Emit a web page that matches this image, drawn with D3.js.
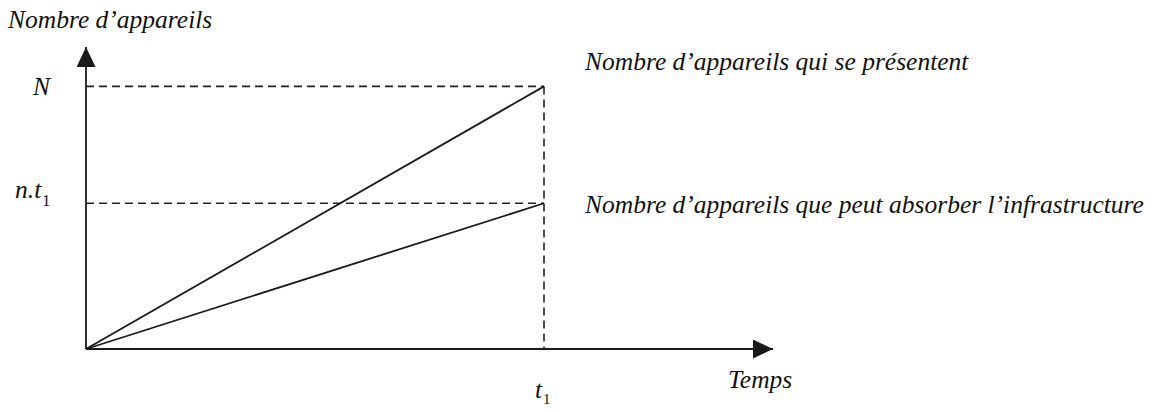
<!DOCTYPE html>
<meta charset="utf-8">
<style>
body { margin:0; background:#fff; }
svg { display:block; }
.guide { stroke:#222; stroke-width:1.6px; stroke-dasharray:8,5; fill:none; }
.line { stroke:#1a1a1a; stroke-width:1.8px; fill:none; }
.axis-line { stroke:#1a1a1a; stroke-width:1.8px; }
</style>
<body>
<script src="https://d3js.org/d3.v7.min.js"></script>
<script>
// time values (t1 = 1) and the two series (N = 1)
var times = [0, 1];
var presented = [0, 1];        // Nombre d'appareils qui se présentent
var absorbed = [0, 0.555];     // Nombre d'appareils que peut absorber l'infrastructure
var levels = [{label:"N", v:1}, {label:"n.t", sub:"1", v:0.555}];
var seriesLabels = ["Nombre d\u2019appareils qui se pr\u00e9sentent",
                    "Nombre d\u2019appareils que peut absorber l\u2019infrastructure"];

var width = 1156, height = 412;
var svg = d3.select("body").append("svg")
    .attr("width", width).attr("height", height);

var FONT = "'Liberation Serif', 'Times New Roman', serif";
var FS = 25.5;
function txt(sel, size) {
  return sel.style("font-family", FONT).style("font-style", "italic")
    .style("font-size", size + "px").attr("fill", "#111");
}

var x = d3.scaleLinear().domain([0, 1.5]).range([86, 773]);
var y = d3.scaleLinear().domain([0, 1.15]).range([349, 47]);

// arrow heads
var defs = svg.append("defs");
defs.append("marker").attr("id","arrow")
    .attr("viewBox","0 0 10 10").attr("refX",10).attr("refY",5)
    .attr("markerWidth",20).attr("markerHeight",19)
    .attr("markerUnits","userSpaceOnUse").attr("orient","auto")
    .attr("preserveAspectRatio","none")
  .append("path").attr("d","M0,0L10,5L0,10Z").attr("fill","#1a1a1a");

// guides
levels.forEach(function(l) {
  svg.append("line").attr("class","guide")
    .attr("x1", x(0)).attr("x2", x(1))
    .attr("y1", y(l.v)).attr("y2", y(l.v));
});
svg.append("line").attr("class","guide")
  .attr("x1", x(1)).attr("x2", x(1))
  .attr("y1", y(1)).attr("y2", y(0));

// axes
svg.append("line").attr("class","axis-line")
  .attr("x1", x(0)).attr("y1", y(0)).attr("x2", x(1.5)).attr("y2", y(0))
  .attr("marker-end","url(#arrow)");
svg.append("line").attr("class","axis-line")
  .attr("x1", x(0)).attr("y1", y(0)).attr("x2", x(0)).attr("y2", y(1.15))
  .attr("marker-end","url(#arrow)");

// series lines
var line = d3.line().x(function(d){ return x(d[0]); }).y(function(d){ return y(d[1]); });
[presented, absorbed].forEach(function(s) {
  svg.append("path").attr("class","line")
    .attr("d", line(times.map(function(t,i){ return [t, s[i]]; })));
});

// texts
txt(svg.append("text"), FS).attr("x", 8).attr("y", 28).text("Nombre d\u2019appareils");

levels.forEach(function(l) {
  var t = txt(svg.append("text"), FS).attr("x", l.sub ? 15 : 33).attr("y", y(l.v) + (l.sub ? -5 : 9));
  t.append("tspan").text(l.label);
  if (l.sub) t.append("tspan").attr("dx", 1).attr("dy", 8).style("font-size","16px").style("font-style","normal").text(l.sub);
});

var tt = txt(svg.append("text"), FS).attr("x", x(1) - 9).attr("y", 398);
tt.append("tspan").text("t");
tt.append("tspan").attr("dx", 1).attr("dy", 6).style("font-size","15px").style("font-style","normal").text("1");

txt(svg.append("text"), FS).attr("x", 728).attr("y", 388).text("Temps");

svg.selectAll(".slabel").data(seriesLabels).enter().append("text")
  .attr("class","slabel")
  .call(txt, FS)
  .attr("x", 585)
  .attr("y", function(d,i){ return y([presented[1], absorbed[1]][i]) + (i ? 10 : -16); })
  .text(function(d){ return d; });
</script>
</body>
